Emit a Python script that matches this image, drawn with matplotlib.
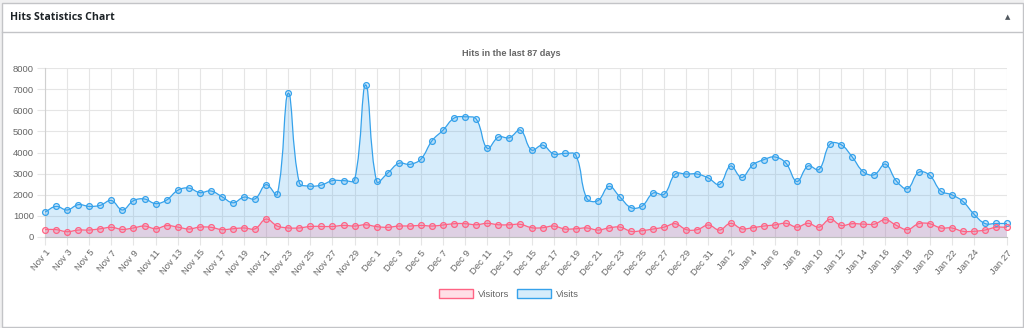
import numpy as np
import matplotlib
matplotlib.use("Agg")
import matplotlib.pyplot as plt
from matplotlib.path import Path
from matplotlib.patches import PathPatch, Patch, Rectangle
from matplotlib.lines import Line2D

# days shown on the x axis
days = (["Nov %d" % d for d in range(1, 31)]
        + ["Dec %d" % d for d in range(1, 32)]
        + ["Jan %d" % d for d in range(1, 28)])

visits = [1180, 1450, 1280, 1530, 1450, 1500, 1730, 1280, 1720, 1800,
          1580, 1750, 2210, 2320, 2100, 2180, 1910, 1620, 1890, 1810,
          2480, 2020, 6810, 2570, 2410, 2460, 2670, 2670, 2710, 7200,
          2630, 3030, 3490, 3440, 3690, 4560, 5060, 5630, 5690, 5580,
          4200, 4730, 4700, 5060, 4120, 4350, 3930, 3960, 3880, 1830,
          1720, 2400, 1890, 1390, 1470, 2080, 2030, 2980, 2980, 2980,
          2790, 2490, 3360, 2820, 3410, 3660, 3790, 3500, 2630, 3360,
          3200, 4400, 4370, 3790, 3090, 2950, 3450, 2650, 2290, 3060,
          2930, 2180, 2000, 1690, 1090, 640, 640, 640]

visitors = [350, 350, 250, 330, 330, 390, 460, 360, 430, 520,
            390, 540, 470, 380, 470, 460, 350, 390, 430, 390,
            850, 520, 430, 430, 500, 500, 500, 550, 520, 580,
            490, 460, 520, 520, 550, 520, 570, 630, 630, 580,
            650, 580, 580, 600, 440, 440, 520, 380, 390, 430,
            330, 430, 470, 270, 300, 380, 470, 630, 350, 350,
            570, 330, 650, 390, 440, 520, 570, 650, 470, 650,
            470, 840, 550, 630, 610, 610, 820, 550, 350, 630,
            630, 430, 430, 270, 270, 330, 460, 460]

y_max = 8000
y_step = 1000

W, H = 1024, 328
fig = plt.figure(figsize=(W / 100, H / 100), dpi=100)

# panel frame (widget box)
fig.patches.append(Rectangle((0, 0), 1, 1, transform=fig.transFigure,
                             facecolor="#f0f0f1", edgecolor="none", zorder=-3))
fig.patches.append(Rectangle((1.5 / W, 1.5 / H), (W - 3) / W, (H - 4) / H,
                             transform=fig.transFigure, facecolor="white",
                             edgecolor="#c3c4c7", lw=1, zorder=-2))
fig.lines.append(Line2D([1.5 / W, (W - 1.5) / W], [1 - 31.5 / H] * 2,
                        transform=fig.transFigure, color="#c3c4c7", lw=1))
fig.text(10 / W, 1 - 18 / H, "Hits Statistics Chart", fontsize=7.6,
         fontweight="bold", family="Open Sans", color="#1d2327",
         va="center", ha="left")
fig.text(1008 / W, 1 - 17.5 / H, "\u25b2", fontsize=5, color="#50575e",
         va="center", ha="center", family="DejaVu Sans")

fig.text(511 / W, 1 - 53 / H, "Hits in the last 87 days", fontsize=6.6,
         fontweight="bold", color="#666666", ha="center", va="center",
         family="Liberation Sans")

x0, x1, yb, yt = 45, 1007, 237, 68
ax = fig.add_axes([x0 / W, 1 - yb / H, (x1 - x0) / W, (yb - yt) / H])
ax.set_facecolor("none")

n = len(days)
xs = np.arange(n)
ax.set_xlim(0, n - 1)
ax.set_ylim(0, y_max)

# px per unit, for chart.js style bezier control points
sx = (x1 - x0) / (n - 1)
sy = (yb - yt) / y_max


def smooth_path(ys, tension=0.4):
    pts = np.column_stack([xs * sx, np.asarray(ys, float) * sy])
    cps = []
    for i in range(n):
        prev = pts[max(i - 1, 0)]
        cur = pts[i]
        nxt = pts[min(i + 1, n - 1)]
        d01 = np.hypot(*(cur - prev))
        d12 = np.hypot(*(nxt - cur))
        tot = d01 + d12
        s01 = d01 / tot if tot else 0
        s12 = d12 / tot if tot else 0
        fa, fb = tension * s01, tension * s12
        cp_prev = cur - fa * (nxt - prev)
        cp_next = cur + fb * (nxt - prev)
        cp_prev[1] = np.clip(cp_prev[1], 0, y_max * sy)
        cp_next[1] = np.clip(cp_next[1], 0, y_max * sy)
        cps.append((cp_prev, cp_next))
    verts = [pts[0]]
    codes = [Path.MOVETO]
    for i in range(1, n):
        verts += [cps[i - 1][1], cps[i][0], pts[i]]
        codes += [Path.CURVE4] * 3
    verts = np.array(verts) / np.array([sx, sy])
    return verts, codes


series = [
    (visits, (54 / 255, 162 / 255, 235 / 255), "Visits"),
    (visitors, (255 / 255, 99 / 255, 132 / 255), "Visitors"),
]

for ys, col, name in series:
    verts, codes = smooth_path(ys)
    fill_verts = np.vstack([verts, [[n - 1, 0], [0, 0], verts[0]]])
    fill_codes = codes + [Path.LINETO, Path.LINETO, Path.CLOSEPOLY]
    ax.add_patch(PathPatch(Path(fill_verts, fill_codes), facecolor=col + (0.2,),
                           edgecolor="none", zorder=2))
    ax.add_patch(PathPatch(Path(verts, codes), facecolor="none", edgecolor=col,
                           lw=0.9, zorder=3))
    ax.plot(xs, ys, "o", ms=4.2, mfc=col + (0.2,), mec=col, mew=0.9, zorder=4,
            clip_on=False)

# ticks: every other day plus the last one
tick_idx = list(range(0, n - 3, 2)) + [n - 1]
ax.set_xticks(tick_idx)
ax.set_xticklabels([days[i] for i in tick_idx], rotation=50, ha="right",
                   va="top", rotation_mode="anchor", fontsize=6.8,
                   color="#666666", family="Liberation Sans")
ax.set_yticks(np.arange(0, y_max + 1, y_step))
ax.set_yticklabels([str(v) for v in range(0, y_max + 1, y_step)],
                   fontsize=6.8, color="#666666", family="Liberation Sans")
ax.tick_params(axis="both", length=6, width=0.8, color="#e5e5e5", pad=2)
ax.grid(True, color="#e5e5e5", lw=0.8, zorder=0)
for side in ["top", "right"]:
    ax.spines[side].set_visible(False)
ax.spines["left"].set_color("#d0d0d0")
ax.spines["bottom"].set_color("#bfbfbf")

handles = [
    Patch(facecolor=series[1][1] + (0.2,), edgecolor=series[1][1], lw=1,
          label="Visitors"),
    Patch(facecolor=series[0][1] + (0.2,), edgecolor=series[0][1], lw=1,
          label="Visits"),
]
fig.legend(handles=handles, loc="center", bbox_to_anchor=(509 / W, 1 - 294 / H),
           ncol=2, frameon=False, handlelength=3.6, handleheight=1.1,
           handletextpad=0.5, columnspacing=0.9,
           prop={"family": "Liberation Sans", "size": 6.8},
           labelcolor="#666666")

fig.savefig("out.png", dpi=100)
